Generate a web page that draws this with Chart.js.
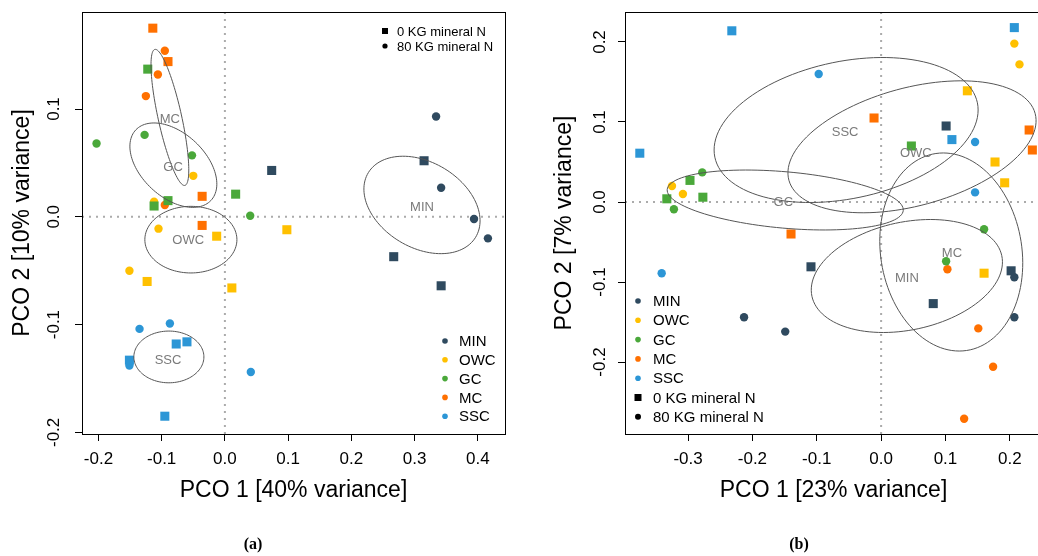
<!DOCTYPE html>
<html>
<head>
<meta charset="utf-8">
<title>PCO</title>
<script src="https://cdn.jsdelivr.net/npm/chart.js@4.4.1/dist/chart.umd.min.js"></script>
<style>
    html, body { margin: 0; padding: 0; background: #fff; overflow: hidden; }
    body { width: 1038px; height: 556px; position: relative; }
    #caixaA { position: absolute; left: 0; top: 0; width: 520px; height: 556px; }
    #caixaB { position: absolute; left: 520px; top: 0; width: 540px; height: 556px; }
    .painel {
        position: absolute; top: 535px; width: 40px; text-align: center;
        font-family: 'Liberation Serif', 'DejaVu Serif', serif; font-weight: bold;
        font-size: 16px; line-height: 18px; color: #000;
    }
</style>
</head>
<body>
<div id="caixaA"><canvas id="graficoA"></canvas></div>
<div id="caixaB"><canvas id="graficoB"></canvas></div>
<div class="painel" style="left:233px">(a)</div>
<div class="painel" style="left:779px">(b)</div>

<script>
// grupos e niveis de adubacao
const grupos = ['MIN', 'OWC', 'GC', 'MC', 'SSC'];
const niveisN = ['0 KG mineral N', '80 KG mineral N'];

// PAINEL (a) - pontos [PCO1, PCO2], 0 KG (quadrado) e 80 KG (circulo)
const a_MIN_0 = [[0.074, 0.043], [0.315, 0.052], [0.267, -0.037], [0.342, -0.064]];
const a_MIN_80 = [[0.334, 0.093], [0.342, 0.027], [0.394, -0.002], [0.416, -0.020]];
const a_OWC_0 = [[-0.013, -0.018], [-0.123, -0.060], [0.011, -0.066], [0.098, -0.012]];
const a_OWC_80 = [[-0.050, 0.038], [-0.112, 0.014], [-0.105, -0.011], [-0.151, -0.050]];
const a_GC_0 = [[-0.122, 0.137], [0.017, 0.021], [-0.112, 0.010], [-0.090, 0.015]];
const a_GC_80 = [[-0.127, 0.076], [-0.203, 0.068], [-0.052, 0.057], [0.040, 0.001]];
const a_MC_0 = [[-0.114, 0.175], [-0.090, 0.144], [-0.036, 0.019], [-0.036, -0.008]];
const a_MC_80 = [[-0.095, 0.154], [-0.106, 0.132], [-0.125, 0.112], [-0.095, 0.011]];
const a_SSC_0 = [[-0.077, -0.118], [-0.060, -0.116], [-0.151, -0.133], [-0.095, -0.185]];
const a_SSC_80 = [[-0.135, -0.104], [-0.087, -0.099], [-0.151, -0.138], [0.041, -0.144]];

// PAINEL (b)
const b_MIN_0 = [[0.101, 0.095], [-0.109, -0.081], [0.202, -0.086], [0.081, -0.127]];
const b_MIN_80 = [[-0.213, -0.144], [-0.149, -0.162], [0.207, -0.094], [0.207, -0.144]];
const b_OWC_0 = [[0.134, 0.139], [0.177, 0.050], [0.192, 0.024], [0.160, -0.089]];
const b_OWC_80 = [[0.207, 0.198], [0.215, 0.172], [-0.325, 0.020], [-0.308, 0.010]];
const b_GC_0 = [[-0.297, 0.027], [-0.277, 0.006], [-0.333, 0.004], [0.047, 0.070]];
const b_GC_80 = [[-0.278, 0.037], [-0.322, -0.009], [0.160, -0.034], [0.101, -0.074]];
const b_MC_0 = [[-0.011, 0.105], [0.230, 0.090], [0.235, 0.065], [-0.140, -0.040]];
const b_MC_80 = [[0.103, -0.084], [0.151, -0.158], [0.174, -0.206], [0.129, -0.271]];
const b_SSC_0 = [[-0.232, 0.214], [-0.375, 0.061], [0.207, 0.218], [0.110, 0.078]];
const b_SSC_80 = [[-0.097, 0.160], [0.146, 0.075], [0.146, 0.012], [-0.341, -0.089]];

// elipses por grupo: [centro x, centro y, semi-eixo u (x, y), semi-eixo v (x, y)]
const elipsesA = [
    [0.3117, 0.011, 0.0848, -0.0300, 0.0353, 0.0338],
    [-0.0538, -0.0212, 0.0728, 0, 0, 0.0309],
    [-0.0815, 0.0479, 0.0593, -0.0328, 0.0348, 0.0214],
    [-0.087, 0.0922, -0.0237, 0.0631, 0.0182, 0.0023],
    [-0.0886, -0.130, 0.0554, 0, 0, 0.024]
];
const elipsesB = [
    [0.040, -0.0925, 0.1475, 0.0254, -0.0176, 0.0659],
    [0.048, 0.069, 0.1913, 0.0418, -0.0241, 0.0711],
    [-0.149, 0.0025, 0.1834, -0.0131, 0.0039, 0.0351],
    [0.109, -0.0625, -0.0124, 0.1238, 0.1104, 0],
    [-0.0544, 0.090, 0.204, 0.034, -0.0216, 0.084]
];
// posicao dos nomes dos grupos
const rotulosA = [[0.3117, 0.009], [-0.058, -0.022], [-0.082, 0.046], [-0.087, 0.090], [-0.090, -0.133]];
const rotulosB = [[0.040, -0.095], [0.054, 0.061], [-0.152, 0.0], [0.110, -0.064], [-0.056, 0.0875]];

// eixos
const ticksA_x = [-0.2, -0.1, 0.0, 0.1, 0.2, 0.3, 0.4];
const ticksA_y = [-0.2, -0.1, 0.0, 0.1];
const ticksB_x = [-0.3, -0.2, -0.1, 0.0, 0.1, 0.2];
const ticksB_y = [-0.2, -0.1, 0.0, 0.1, 0.2];
const limitesA_x = [-0.226, 0.443];
const limitesA_y = [-0.2015, 0.19];
const limitesB_x = [-0.398, 0.25];
const limitesB_y = [-0.29, 0.2375];

const titulosA = ['PCO 1 [40% variance]', 'PCO 2 [10% variance]'];
const titulosB = ['PCO 1 [23% variance]', 'PCO 2 [7% variance]'];

const cores = ['#2F4A5F', '#FFC000', '#4AA83A', '#FF7000', '#2C96D6'];

Chart.defaults.font.family = "'Liberation Sans', Arial, sans-serif";
Chart.defaults.color = '#000';

function montarDatasets(series) {
    const ds = [];
    for (let n = 0; n < 2; n++) {
        for (let g = 0; g < grupos.length; g++) {
            ds.push({
                label: grupos[g] + ' - ' + niveisN[n],
                data: series[g][n].map(p => ({ x: p[0], y: p[1] })),
                pointStyle: n === 0 ? 'rect' : 'circle',
                pointRadius: n === 0 ? 6.4 : 4.2,
                pointHoverRadius: n === 0 ? 7 : 5,
                backgroundColor: cores[g],
                borderWidth: 0,
                showLine: false
            });
        }
    }
    return ds;
}

function marcador(ctx, forma, x, y, tam, cor) {
    ctx.fillStyle = cor;
    ctx.beginPath();
    if (forma === 'rect') {
        ctx.rect(x - tam, y - tam, tam * 2, tam * 2);
    } else {
        ctx.arc(x, y, tam, 0, Math.PI * 2);
    }
    ctx.fill();
}

// desenha linhas do zero, elipses, moldura e legendas
function criarPlugin(elipses, rotulos, legendas) {
    return {
        id: 'moldura',
        beforeDatasetsDraw(chart) {
            const { ctx, chartArea: ca, scales: { x, y } } = chart;
            const x0 = x.getPixelForValue(0);
            const y0 = y.getPixelForValue(0);
            ctx.save();
            ctx.strokeStyle = '#ababab';
            ctx.lineWidth = 2;
            ctx.setLineDash([2, 5]);
            ctx.beginPath();
            ctx.moveTo(x0, ca.top); ctx.lineTo(x0, ca.bottom);
            ctx.moveTo(ca.left, y0); ctx.lineTo(ca.right, y0);
            ctx.stroke();
            ctx.restore();
        },
        afterDatasetsDraw(chart) {
            const { ctx, chartArea: ca, scales: { x, y } } = chart;
            ctx.save();
            ctx.strokeStyle = '#555';
            ctx.lineWidth = 1;
            elipses.forEach(e => {
                ctx.beginPath();
                for (let i = 0; i <= 120; i++) {
                    const t = i / 120 * Math.PI * 2;
                    const px = x.getPixelForValue(e[0] + e[2] * Math.cos(t) + e[4] * Math.sin(t));
                    const py = y.getPixelForValue(e[1] + e[3] * Math.cos(t) + e[5] * Math.sin(t));
                    if (i === 0) ctx.moveTo(px, py); else ctx.lineTo(px, py);
                }
                ctx.closePath();
                ctx.stroke();
            });
            ctx.fillStyle = '#7a7a7a';
            ctx.font = "13px 'Liberation Sans', Arial, sans-serif";
            ctx.textAlign = 'center';
            ctx.textBaseline = 'middle';
            rotulos.forEach((r, i) => {
                ctx.fillText(grupos[i], x.getPixelForValue(r[0]), y.getPixelForValue(r[1]));
            });

            // moldura
            ctx.strokeStyle = '#000';
            ctx.strokeRect(ca.left + 0.5, ca.top + 0.5, ca.width, ca.height);

            // legendas
            legendas.forEach(leg => {
                ctx.font = leg.fonte + "px 'Liberation Sans', Arial, sans-serif";
                ctx.textAlign = 'left';
                leg.itens.forEach((it, i) => {
                    const yy = leg.y + i * leg.passo;
                    marcador(ctx, it.forma, leg.x, yy, it.tam, it.cor);
                    ctx.fillStyle = '#000';
                    ctx.fillText(it.texto, leg.xt, yy + 1);
                });
            });
            ctx.restore();
        }
    };
}

function itensGrupos() {
    return grupos.map((g, i) => ({ texto: g, forma: 'circle', tam: 2.8, cor: cores[i] }));
}
function itensN(tq, tc) {
    return [
        { texto: niveisN[0], forma: 'rect', tam: tq, cor: '#000' },
        { texto: niveisN[1], forma: 'circle', tam: tc, cor: '#000' }
    ];
}

function eixo(ticks, limites, titulo, vertical, pad) {
    return {
        type: 'linear',
        min: limites[0],
        max: limites[1],
        afterBuildTicks: (s) => { s.ticks = ticks.map(v => ({ value: v })); },
        afterFit: (s) => {
            if (vertical) { s.width = pad.largura; s.paddingTop = 0; s.paddingBottom = 0; }
            else { s.height = pad.altura; s.paddingLeft = 0; s.paddingRight = 0; }
        },
        grid: { display: true, drawOnChartArea: false, drawTicks: true, tickLength: 7, color: '#000', lineWidth: 1 },
        border: { display: true, color: '#000', width: 1 },
        ticks: {
            font: { size: 17 },
            color: '#000',
            padding: pad.ticks,
            minRotation: vertical ? 90 : 0,
            maxRotation: vertical ? 90 : 0,
            crossAlign: vertical ? 'center' : 'near',
            includeBounds: false,
            callback: (v) => (Math.abs(v) < 1e-9 ? 0 : v).toFixed(1)
        },
        title: {
            display: true,
            text: titulo,
            color: '#000',
            font: { size: 23 },
            padding: vertical ? { top: pad.titulo, bottom: 0 } : { top: 0, bottom: pad.titulo }
        }
    };
}

// ---------- grafico (a)
const seriesA = [
    [a_MIN_0, a_MIN_80], [a_OWC_0, a_OWC_80], [a_GC_0, a_GC_80], [a_MC_0, a_MC_80], [a_SSC_0, a_SSC_80]
];
const legendasA = [
    { x: 385, xt: 397, y: 31, passo: 15, fonte: 13, itens: itensN(3, 2.6) },
    { x: 445, xt: 459, y: 341, passo: 18.8, fonte: 15, itens: itensGrupos() }
];
const grafico_A = new Chart(document.getElementById('graficoA'), {
    type: 'scatter',
    data: { datasets: montarDatasets(seriesA) },
    plugins: [criarPlugin(elipsesA, rotulosA, legendasA)],
    options: {
        responsive: true,
        maintainAspectRatio: false,
        animation: false,
        layout: { padding: { left: 0, top: 12, right: 15, bottom: 0 } },
        scales: {
            x: eixo(ticksA_x, limitesA_x, titulosA[0], false, { altura: 122, ticks: 8, titulo: 52 }),
            y: eixo(ticksA_y, limitesA_y, titulosA[1], true, { largura: 82, ticks: 6.4, titulo: 9.2 })
        },
        plugins: { legend: { display: false } }
    }
});

// ---------- grafico (b)
const seriesB = [
    [b_MIN_0, b_MIN_80], [b_OWC_0, b_OWC_80], [b_GC_0, b_GC_80], [b_MC_0, b_MC_80], [b_SSC_0, b_SSC_80]
];
const legendasB = [
    { x: 118, xt: 133, y: 301, passo: 19.3, fonte: 15, itens: itensGrupos().concat(itensN(3.5, 3)) }
];
const grafico_B = new Chart(document.getElementById('graficoB'), {
    type: 'scatter',
    data: { datasets: montarDatasets(seriesB) },
    plugins: [criarPlugin(elipsesB, rotulosB, legendasB)],
    options: {
        responsive: true,
        maintainAspectRatio: false,
        animation: false,
        layout: { padding: { left: 0, top: 12, right: 18, bottom: 0 } },
        scales: {
            x: eixo(ticksB_x, limitesB_x, titulosB[0], false, { altura: 122, ticks: 8, titulo: 52 }),
            y: eixo(ticksB_y, limitesB_y, titulosB[1], true, { largura: 105, ticks: 3.4, titulo: 31.2 })
        },
        plugins: { legend: { display: false } }
    }
});
</script>
</body>
</html>
